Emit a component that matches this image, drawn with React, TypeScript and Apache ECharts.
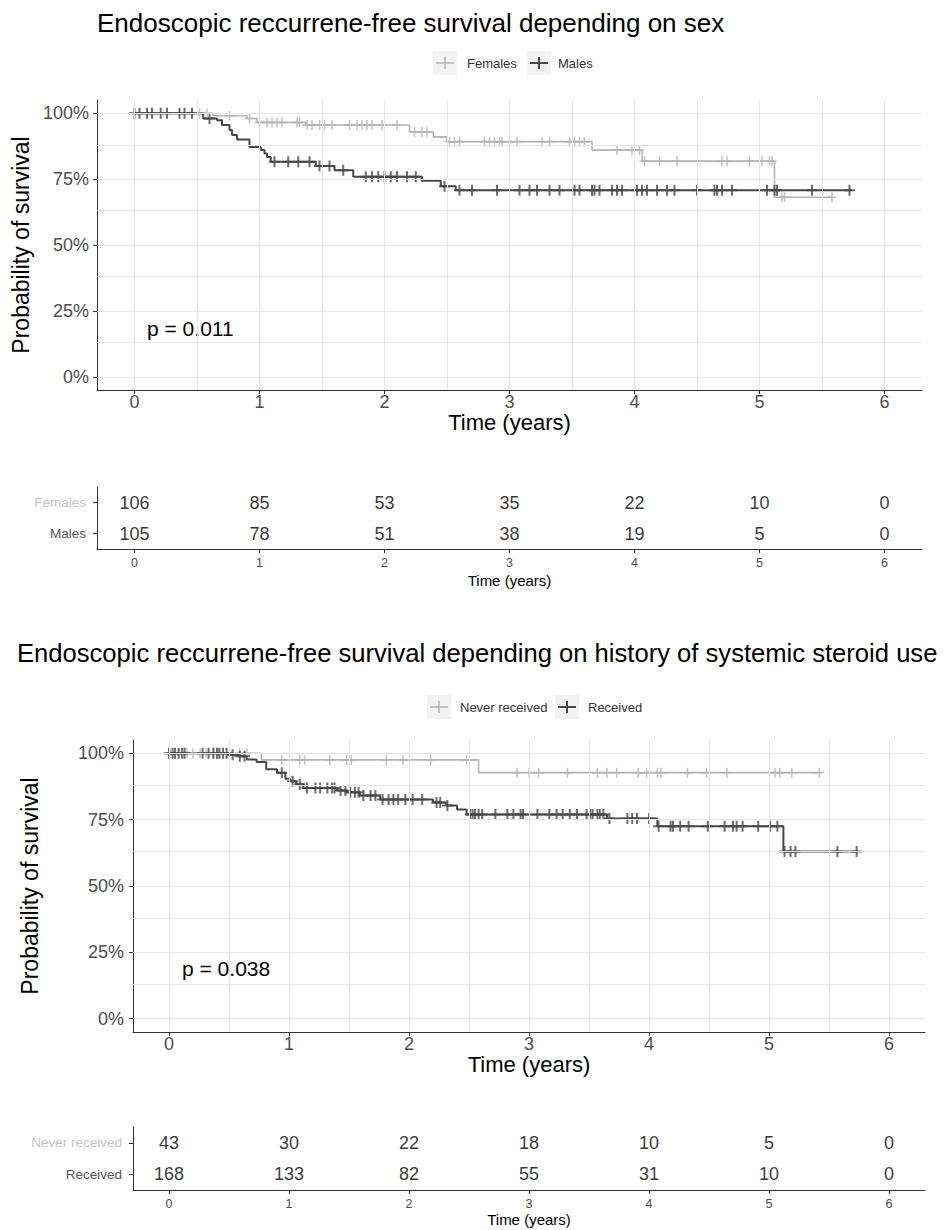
import React, { useEffect, useRef } from "react";
import * as echarts from "echarts";

// ---------- texts ----------
const TITLE_SEX = "Endoscopic reccurrene-free survival depending on sex";
const TITLE_STEROID = "Endoscopic reccurrene-free survival depending on history of systemic steroid use";
const P_SEX = "p = 0.011";
const P_STEROID = "p = 0.038";
const X_NAME = "Time (years)";
const Y_NAME = "Probability of survival";

// ---------- axes ----------
const timeTicks = [0, 1, 2, 3, 4, 5, 6];
const survTicks = [0, 0.25, 0.5, 0.75, 1];
const gridXValues = [0, 0.5, 1, 1.5, 2, 2.5, 3, 3.5, 4, 4.5, 5, 5.5, 6];
const gridYValues = [0, 0.125, 0.25, 0.375, 0.5, 0.625, 0.75, 0.875, 1];

// ---------- chart 1: sex ----------
const sexGroups = ["Females", "Males"];
const femalesTime = [0, 0.63, 0.9, 0.98, 1.37, 2.2, 2.39, 2.5, 3.66, 4.06, 5.12, 5.58];
const femalesSurv = [1, 0.99, 0.98, 0.965, 0.955, 0.929, 0.91, 0.892, 0.86, 0.818, 0.681, 0.681];
const femalesCensor = [0.52, 0.58, 0.76, 0.92, 1.0, 1.06, 1.1, 1.14, 1.18, 1.3, 1.32, 1.38, 1.42, 1.48, 1.52, 1.58, 1.72, 1.78, 1.82, 1.86, 1.9, 1.98, 2.1, 2.24, 2.3, 2.34, 2.52, 2.56, 2.6, 2.8, 2.84, 2.88, 2.92, 2.94, 3.0, 3.06, 3.26, 3.32, 3.48, 3.52, 3.56, 3.6, 3.86, 3.98, 4.04, 4.08, 4.2, 4.34, 4.7, 4.74, 4.92, 5.02, 5.08, 5.1, 5.18, 5.2, 5.58];

const malesTime = [0, 0.55, 0.66, 0.7, 0.76, 0.78, 0.82, 0.92, 1.01, 1.04, 1.06, 1.09, 1.45, 1.6, 1.75, 2.3, 2.45, 2.57, 5.74];
const malesSurv = [1, 0.98, 0.973, 0.955, 0.936, 0.917, 0.9, 0.872, 0.86, 0.847, 0.834, 0.816, 0.8, 0.784, 0.759, 0.744, 0.723, 0.708, 0.708];
const malesCensor = [0, 0.04, 0.1, 0.14, 0.21, 0.26, 0.36, 0.4, 0.46, 0.6, 1.12, 1.23, 1.31, 1.4, 1.48, 1.56, 1.67, 1.85, 1.9, 1.95, 2.0, 2.05, 2.1, 2.18, 2.25, 2.48, 2.6, 2.7, 2.9, 3.08, 3.16, 3.22, 3.32, 3.4, 3.52, 3.56, 3.66, 3.68, 3.72, 3.82, 3.86, 3.9, 4.02, 4.06, 4.1, 4.18, 4.26, 4.32, 4.5, 4.64, 4.66, 4.7, 4.78, 5.06, 5.12, 5.14, 5.42, 5.72];

const femalesRisk = [106, 85, 53, 35, 22, 10, 0];
const malesRisk = [105, 78, 51, 38, 19, 5, 0];

// ---------- chart 2: steroid ----------
const steroidGroups = ["Never received", "Received"];
const neverTime = [0, 0.77, 2.58, 5.43];
const neverSurv = [1, 0.975, 0.927, 0.927];
const neverCensor = [0.01, 0.15, 0.2, 0.26, 0.31, 0.37, 0.42, 0.59, 0.65, 0.94, 1.09, 1.13, 1.34, 1.48, 1.52, 1.81, 1.95, 2.18, 2.48, 2.9, 3.0, 3.08, 3.32, 3.57, 3.65, 3.73, 3.91, 3.98, 4.07, 4.1, 4.32, 4.48, 4.65, 5.05, 5.09, 5.19, 5.42];

const receivedTime = [0, 0.51, 0.58, 0.65, 0.73, 0.81, 0.9, 0.97, 1.01, 1.06, 1.12, 1.4, 1.48, 1.59, 1.76, 2.2, 2.31, 2.4, 2.48, 3.65, 4.07, 5.12, 5.74];
const receivedSurv = [1, 0.994, 0.989, 0.977, 0.967, 0.94, 0.927, 0.904, 0.895, 0.883, 0.869, 0.86, 0.853, 0.841, 0.826, 0.815, 0.803, 0.788, 0.769, 0.754, 0.725, 0.63, 0.63];
const receivedCensor = [0, 0.03, 0.05, 0.08, 0.11, 0.13, 0.28, 0.33, 0.37, 0.4, 0.42, 0.45, 0.48, 0.53, 0.59, 0.63, 0.94, 1.03, 1.09, 1.15, 1.22, 1.26, 1.32, 1.36, 1.38, 1.43, 1.47, 1.51, 1.55, 1.58, 1.62, 1.68, 1.72, 1.78, 1.83, 1.87, 1.91, 1.97, 2.03, 2.11, 2.23, 2.26, 2.32, 2.51, 2.53, 2.55, 2.58, 2.61, 2.72, 2.82, 2.87, 2.93, 2.95, 3.07, 3.17, 3.23, 3.28, 3.34, 3.4, 3.48, 3.51, 3.53, 3.57, 3.59, 3.62, 3.67, 3.82, 3.86, 3.9, 4.0, 4.08, 4.18, 4.2, 4.26, 4.33, 4.49, 4.63, 4.7, 4.73, 4.78, 4.91, 5.01, 5.07, 5.13, 5.18, 5.22, 5.57, 5.73];

const neverRisk = [43, 30, 22, 18, 10, 5, 0];
const receivedRisk = [168, 133, 82, 55, 31, 10, 0];

// ---------- style ----------
const LIGHT = "#b3b3b3";
const LIGHT_TEXT = "#c4c4c4";
const DARK = "#474747";
const AXIS = "#333333";
const TICK_TEXT = "#4d4d4d";
const GRID = "#e6e6e6";
const FONT = "'Liberation Sans', Arial, sans-serif";
const CROSS = "path://M0,5L10,5M5,0L5,10";

const survAt = (times: number[], surv: number[], t: number) => {
  let s = surv[0];
  for (let i = 0; i < times.length; i++) if (times[i] <= t) s = surv[i];
  return s;
};

function kmXAxis(gridIndex: number, nameGap: number, labelSize: number, nameSize: number, margin: number) {
  return {
    type: "value",
    gridIndex,
    min: -0.3,
    max: 6.3,
    axisLine: { show: true, onZero: false, lineStyle: { color: AXIS, width: 1 } },
    axisTick: { show: true, customValues: timeTicks, length: 4, lineStyle: { color: AXIS } },
    axisLabel: { customValues: timeTicks, fontSize: labelSize, color: TICK_TEXT, margin, fontFamily: FONT },
    splitLine: { show: false },
    name: X_NAME,
    nameLocation: "middle",
    nameGap,
    nameTextStyle: { fontSize: nameSize, color: "#000", fontFamily: FONT },
  };
}

function kmYAxis(gridIndex: number, nameGap: number, margin: number) {
  return {
    type: "value",
    gridIndex,
    min: -0.05,
    max: 1.05,
    axisLine: { show: true, onZero: false, lineStyle: { color: AXIS, width: 1 } },
    axisTick: { show: true, customValues: survTicks, length: 4, lineStyle: { color: AXIS } },
    axisLabel: {
      customValues: survTicks,
      fontSize: 18,
      color: TICK_TEXT,
      margin,
      fontFamily: FONT,
      formatter: (v: number) => Math.round(v * 100) + "%",
    },
    splitLine: { show: false },
    name: Y_NAME,
    nameLocation: "middle",
    nameGap,
    nameRotate: 90,
    nameTextStyle: { fontSize: 23, color: "#000", fontFamily: FONT },
  };
}

function riskYAxis(gridIndex: number, groups: string[]) {
  return {
    type: "category",
    gridIndex,
    data: groups,
    inverse: true,
    axisLine: { show: true, onZero: false, lineStyle: { color: AXIS, width: 1 } },
    axisTick: { show: true, length: 4, alignWithLabel: true, lineStyle: { color: AXIS } },
    axisLabel: {
      fontSize: 13.5,
      margin: 11,
      fontFamily: FONT,
      color: (v: string) => (v === groups[0] ? LIGHT_TEXT : "#555555"),
    },
    splitLine: { show: false },
  };
}

function gridSeries(xi: number, yi: number) {
  return {
    type: "line",
    xAxisIndex: xi,
    yAxisIndex: yi,
    data: [],
    z: 0,
    silent: true,
    markLine: {
      silent: true,
      symbol: ["none", "none"],
      label: { show: false },
      lineStyle: { color: GRID, width: 1, type: "solid" },
      data: [
        ...gridYValues.map((v) => ({ yAxis: v })),
        ...gridXValues.map((v) => ({ xAxis: v })),
      ],
    },
  };
}

function kmSeries(name: string, xi: number, yi: number, times: number[], surv: number[], color: string, width: number) {
  return {
    name,
    type: "line",
    xAxisIndex: xi,
    yAxisIndex: yi,
    step: "end",
    showSymbol: false,
    symbol: "none",
    z: 3,
    lineStyle: { color, width },
    itemStyle: { color },
    data: times.map((t, i) => [t, surv[i]]),
  };
}

function censorSeries(name: string, xi: number, yi: number, censor: number[], times: number[], surv: number[], color: string, width: number, size: number) {
  return {
    name: name + " censored",
    type: "scatter",
    xAxisIndex: xi,
    yAxisIndex: yi,
    symbol: CROSS,
    symbolSize: [size, size],
    z: 4,
    itemStyle: { color, borderColor: color, borderWidth: width },
    data: censor.map((t) => [t, survAt(times, surv, t)]),
  };
}

function riskSeries(xi: number, yi: number, group: string, values: number[]) {
  return {
    type: "scatter",
    xAxisIndex: xi,
    yAxisIndex: yi,
    symbolSize: 1,
    itemStyle: { color: "transparent" },
    label: {
      show: true,
      position: "inside",
      fontSize: 18,
      color: "#000",
      fontFamily: FONT,
      formatter: (p: any) => String(p.value[2]),
    },
    data: timeTicks.map((t, i) => [t, group, values[i]]),
  };
}

function legendGraphic(cy: number, labels: string[], colors: string[], widths: number[], textX: number[], boxX: number[]) {
  const els: any[] = [];
  labels.forEach((lab, i) => {
    const bx = boxX[i];
    els.push({ type: "rect", shape: { x: bx, y: cy - 12, width: 24, height: 24 }, style: { fill: "#f2f2f2" }, silent: true });
    els.push({ type: "line", shape: { x1: bx + 3, y1: cy, x2: bx + 21, y2: cy }, style: { stroke: colors[i], lineWidth: widths[i] }, silent: true });
    els.push({ type: "line", shape: { x1: bx + 12, y1: cy - 6, x2: bx + 12, y2: cy + 6 }, style: { stroke: colors[i], lineWidth: widths[i] }, silent: true });
    els.push({
      type: "text",
      x: textX[i],
      y: cy,
      style: { text: lab, fontSize: 13, fill: "#333", fontFamily: FONT, verticalAlign: "middle" },
      silent: true,
    });
  });
  return els;
}

export default function App() {
  const ref = useRef<HTMLDivElement>(null);

  useEffect(() => {
    if (!ref.current) return;
    const chart = echarts.init(ref.current, null, { renderer: "svg" });

    const option: any = {
      animation: false,
      backgroundColor: "#ffffff",
      textStyle: { fontFamily: FONT },
      title: [
        { text: TITLE_SEX, left: 97, top: 10, padding: 0, textStyle: { fontSize: 26, fontWeight: "normal", color: "#000", fontFamily: FONT } },
        { text: TITLE_STEROID, left: 17, top: 640, padding: 0, textStyle: { fontSize: 25.6, fontWeight: "normal", color: "#000", fontFamily: FONT } },
      ],
      grid: [
        { left: 97, top: 100, width: 825, height: 290 },
        { left: 97, top: 487, width: 825, height: 62 },
        { left: 133, top: 740, width: 792, height: 292 },
        { left: 133, top: 1127, width: 792, height: 63 },
      ],
      xAxis: [
        kmXAxis(0, 20, 18, 22, 3),
        kmXAxis(1, 24, 12.5, 15, 7),
        kmXAxis(2, 18, 18, 22, 3),
        kmXAxis(3, 22, 12.5, 15, 7),
      ],
      yAxis: [
        kmYAxis(0, 56, 8),
        riskYAxis(1, sexGroups),
        kmYAxis(2, 92, 9),
        riskYAxis(3, steroidGroups),
      ],
      series: [
        gridSeries(0, 0),
        kmSeries("Females", 0, 0, femalesTime, femalesSurv, LIGHT, 1.6),
        kmSeries("Males", 0, 0, malesTime, malesSurv, DARK, 2),
        censorSeries("Females", 0, 0, femalesCensor, femalesTime, femalesSurv, LIGHT, 1.5, 10),
        censorSeries("Males", 0, 0, malesCensor, malesTime, malesSurv, DARK, 2, 11),
        riskSeries(1, 1, "Females", femalesRisk),
        riskSeries(1, 1, "Males", malesRisk),

        gridSeries(2, 2),
        kmSeries("Never received", 2, 2, neverTime, neverSurv, LIGHT, 1.6),
        kmSeries("Received", 2, 2, receivedTime, receivedSurv, DARK, 2),
        censorSeries("Never received", 2, 2, neverCensor, neverTime, neverSurv, LIGHT, 1.5, 10),
        censorSeries("Received", 2, 2, receivedCensor, receivedTime, receivedSurv, DARK, 2, 11),
        riskSeries(3, 3, "Never received", neverRisk),
        riskSeries(3, 3, "Received", receivedRisk),
      ],
      graphic: [
        ...legendGraphic(63, sexGroups, [LIGHT, DARK], [1.5, 2], [467, 558], [433, 527]),
        ...legendGraphic(707, steroidGroups, [LIGHT, DARK], [1.5, 2], [460, 588], [427, 555]),
        { type: "text", x: 147, y: 328, style: { text: P_SEX, fontSize: 21, fill: "#000", fontFamily: FONT, verticalAlign: "middle" }, silent: true },
        { type: "text", x: 182, y: 968, style: { text: P_STEROID, fontSize: 21, fill: "#000", fontFamily: FONT, verticalAlign: "middle" }, silent: true },
      ],
    };

    chart.setOption(option);
    return () => chart.dispose();
  }, []);

  return (
    <div
      ref={ref}
      style={{ position: "absolute", left: 0, top: 0, width: 951, height: 1230, background: "#fff" }}
    />
  );
}
